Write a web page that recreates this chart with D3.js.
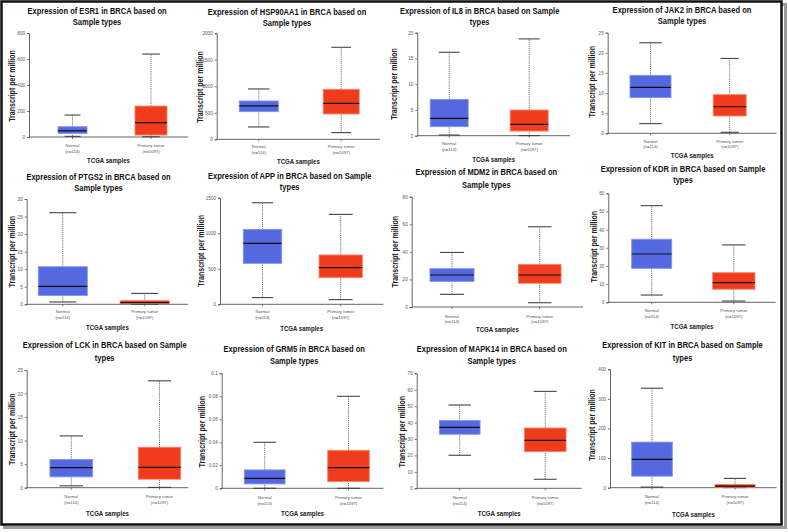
<!DOCTYPE html>
<html><head><meta charset="utf-8">
<script src="https://cdn.jsdelivr.net/npm/d3@7/dist/d3.min.js"></script>
<style>body{margin:0;background:#fff}svg{display:block}</style>
</head><body>
<svg id="chart" width="788" height="532"></svg>
<script>
// ---------- data ----------
const genes = ["ESR1","HSP90AA1","IL8","JAK2","PTGS2","APP","MDM2","KDR","LCK","GRM5","MAPK14","KIT"];
const titleLine1 = [
  "Expression of ESR1 in BRCA based on",
  "Expression of HSP90AA1 in BRCA based on",
  "Expression of IL8 in BRCA based on Sample",
  "Expression of JAK2 in BRCA based on",
  "Expression of PTGS2 in BRCA based on",
  "Expression of APP in BRCA based on Sample",
  "Expression of MDM2 in BRCA based on",
  "Expression of KDR in BRCA based on Sample",
  "Expression of LCK in BRCA based on Sample",
  "Expression of GRM5 in BRCA based on",
  "Expression of MAPK14 in BRCA based on",
  "Expression of KIT in BRCA based on Sample"];
const titleLine2 = ["Sample types","Sample types","types","Sample types","Sample types","types",
  "Sample types","types","types","Sample types","Sample types","types"];
const groups = ["Normal","Primary tumor"];
const groupN = ["(n=114)","(n=1097)"];
const xTitle = "TCGA samples";
const yTitle = "Transcript per million";
const yMax = [800,2000,20,25,30,1500,80,60,25,0.1,70,400];
const yStep = [200,500,5,5,5,500,20,10,5,0.02,10,100];
// [whisker low, Q1, median, Q3, whisker high]
const normalStats = [
  [5,28,48,79,169],
  [233,522,629,723,950],
  [0.13,1.75,3.37,7.05,16.2],
  [2.4,8.86,11.4,14.4,22.5],
  [0.66,2.5,5.1,10.7,26.1],
  [94,576,858,1054,1429],
  [9.2,18.6,23.2,27.8,39.6],
  [4.0,18.7,26.6,34.7,53.2],
  [0.4,2.3,4.25,6.0,11.0],
  [0,0.0038,0.0087,0.016,0.04],
  [20.1,32.9,37.1,41.2,50.7],
  [2,39,96,154,336]];
const tumorStats = [
  [2,15,110,238,638],
  [126,478,679,943,1736],
  [0.02,0.9,2.2,4.98,18.8],
  [0.25,4.3,6.6,9.6,18.6],
  [0,0.19,0.47,1.04,3.1],
  [66,375,515,694,1265],
  [3.1,17.2,23.2,30.9,58.2],
  [0.7,7.2,10.8,16.3,31.6],
  [0.07,1.8,4.3,8.6,22.7],
  [0,0.0058,0.018,0.033,0.08],
  [5.5,22.3,29.2,36.7,59],
  [0.5,2,5.6,11,31.5]];

// ---------- layout (positions only) ----------
const layout = [
 {ax:29,yt:33,y0:137,xr:188,c:[72.5,151],bw:[29,32],tcx:97,t1:14,t2:25,k1:147,k2:152.5,kt:162.5,lx:12,ly:86},
 {ax:216.7,yt:33.3,y0:139.3,xr:380,c:[258.8,341.2],bw:[39,36],tcx:287,t1:14.7,t2:25.7,k1:148,k2:154,kt:164,lx:200,ly:87},
 {ax:417.3,yt:32.7,y0:135.7,xr:570,c:[449.2,529.2],bw:[38,38],tcx:479.7,t1:14,t2:25,k1:145,k2:151,kt:161.7,lx:394,ly:84},
 {ax:607.7,yt:32.7,y0:133.3,xr:776.7,c:[650.5,729.7],bw:[41,33],tcx:682,t1:13.3,t2:24.3,k1:143,k2:148,kt:157.5,lx:592,ly:81.7},
 {ax:26.7,yt:199,y0:304.3,xr:188,c:[62.8,144.7],bw:[49,49],tcx:98.5,t1:179.7,t2:190.7,k1:313.3,k2:319,kt:330,lx:11.7,ly:251.7},
 {ax:220,yt:197.7,y0:304.3,xr:383.3,c:[262.5,340.7],bw:[38.4,43.3],tcx:289.7,t1:179,t2:190,k1:313.3,k2:319,kt:330.7,lx:201,ly:250.8},
 {ax:411.7,yt:196.7,y0:307,xr:583,c:[452,539.7],bw:[44,42.7],tcx:486.3,t1:175,t2:187.7,k1:317.7,k2:323.3,kt:331.7,lx:395,ly:251.7},
 {ax:608.3,yt:193.3,y0:302.3,xr:775.7,c:[651.7,733.8],bw:[40,42.3],tcx:683,t1:171.7,t2:182.7,k1:312.3,k2:317.7,kt:329,lx:594.3,ly:246.7},
 {ax:26.7,yt:370,y0:487.7,xr:188.3,c:[71.3,159.5],bw:[42.7,42.4],tcx:104.7,t1:348.3,t2:360.7,k1:498.3,k2:504,kt:515.7,lx:11.7,ly:429.2},
 {ax:221.7,yt:373.3,y0:488.3,xr:383.3,c:[264.7,348.5],bw:[40.7,41.6],tcx:294.2,t1:352.3,t2:364,k1:499,k2:504.7,kt:515.7,lx:202.3,ly:431.7},
 {ax:416.7,yt:373.3,y0:488.3,xr:581.7,c:[459.7,545.2],bw:[40.7,41.7],tcx:491.7,t1:352.3,t2:364,k1:499,k2:504.7,kt:516,lx:401.7,ly:431.7},
 {ax:610,yt:369.3,y0:487.7,xr:776.7,c:[652,735],bw:[40.6,40],tcx:682.5,t1:348.3,t2:361,k1:498.3,k2:504,kt:516.7,lx:592.3,ly:425}
];
const fills = ["#5468df","#f03c1c"];
const strokes = ["#8494ec","#f7866a"];
const FONT = "'Liberation Sans', Arial, Helvetica, sans-serif";

const svg = d3.select("#chart");
svg.append("rect").attr("width",788).attr("height",532).attr("fill","#fff");
// frame shadow + frame
svg.append("rect").attr("x",4.5).attr("y",4.5).attr("width",781).attr("height",523)
  .attr("fill","none").attr("stroke","#9a9a9a").attr("stroke-width",3);
svg.append("rect").attr("x",1.5).attr("y",1.5).attr("width",780).attr("height",523)
  .attr("fill","#fff").attr("stroke","#111").attr("stroke-width",2.5);

genes.forEach((g,i)=>{
  const L = layout[i];
  const gp = svg.append("g").attr("class","panel-"+g);
  const y = d3.scaleLinear().domain([0,yMax[i]]).range([L.y0,L.yt]);
  const x = d3.scaleOrdinal().domain(groups).range(L.c);
  const bwOf = d3.scaleOrdinal().domain(groups).range(L.bw);

  // title
  [[titleLine1[i],L.t1],[titleLine2[i],L.t2]].forEach(([t,ty])=>{
    gp.append("text").attr("transform",`translate(${L.tcx},${ty}) scale(0.82,1)`)
      .attr("text-anchor","middle").attr("font-family",FONT).attr("font-weight","bold")
      .attr("font-size",9.2).attr("fill","#111").text(t);
  });
  // y label
  gp.append("text").attr("transform",`translate(${L.lx},${L.ly}) rotate(-90) scale(0.82,1)`)
    .attr("text-anchor","middle").attr("dy","0.35em").attr("font-family",FONT).attr("font-weight","bold")
    .attr("font-size",8.6).attr("fill","#222").text(yTitle);

  // y axis
  const ticks = d3.range(0, yMax[i]+yStep[i]/2, yStep[i]).map(v=>+v.toFixed(6));
  const ya = gp.append("g").attr("transform",`translate(${L.ax},0)`)
    .call(d3.axisLeft(y).tickValues(ticks).tickSize(2).tickPadding(2).tickFormat(d=>String(+d.toFixed(6))));
  ya.select(".domain").attr("stroke","#555").attr("stroke-width",0.9);
  ya.selectAll(".tick line").attr("stroke","#555").attr("stroke-width",0.8);
  ya.selectAll(".tick text").attr("font-family",FONT).attr("font-size",4.6).attr("fill","#555");
  // x axis line
  gp.append("line").attr("x1",L.ax).attr("x2",L.xr).attr("y1",L.y0).attr("y2",L.y0)
    .attr("stroke","#555").attr("stroke-width",0.9);
  groups.forEach(gr=>{
    gp.append("line").attr("x1",x(gr)).attr("x2",x(gr)).attr("y1",L.y0).attr("y2",L.y0+2)
      .attr("stroke","#555").attr("stroke-width",0.8);
  });
  // category labels
  groups.forEach((gr,j)=>{
    gp.append("text").attr("x",x(gr)).attr("y",L.k1).attr("text-anchor","middle")
      .attr("font-family",FONT).attr("font-size",4.3).attr("fill","#555").text(gr);
    gp.append("text").attr("x",x(gr)).attr("y",L.k2).attr("text-anchor","middle")
      .attr("font-family",FONT).attr("font-size",4.3).attr("fill","#555").text(groupN[j]);
  });
  // x title
  gp.append("text").attr("transform",`translate(${(L.ax+L.xr)/2},${L.kt}) scale(0.82,1)`)
    .attr("text-anchor","middle").attr("font-family",FONT).attr("font-weight","bold")
    .attr("font-size",7.4).attr("fill","#222").text(xTitle);

  // boxes
  const stats = [normalStats[i], tumorStats[i]];
  groups.forEach((gr,j)=>{
    const s = stats[j], cx = x(gr), bw = bwOf(gr), cap = bw*0.55;
    // whiskers (dotted)
    gp.append("line").attr("x1",cx).attr("x2",cx).attr("y1",y(s[0])).attr("y2",y(s[1]))
      .attr("stroke","#666").attr("stroke-width",0.9).attr("stroke-dasharray","1.2,0.9");
    gp.append("line").attr("x1",cx).attr("x2",cx).attr("y1",y(s[3])).attr("y2",y(s[4]))
      .attr("stroke","#666").attr("stroke-width",0.9).attr("stroke-dasharray","1.2,0.9");
    // caps
    [s[0],s[4]].forEach(v=>{
      gp.append("line").attr("x1",cx-cap/2).attr("x2",cx+cap/2).attr("y1",y(v)).attr("y2",y(v))
        .attr("stroke","#444").attr("stroke-width",1.1);
    });
    // box
    gp.append("rect").attr("x",cx-bw/2).attr("width",bw)
      .attr("y",y(s[3])).attr("height",Math.max(0.8,y(s[1])-y(s[3])))
      .attr("fill",fills[j]).attr("stroke",strokes[j]).attr("stroke-width",0.9);
    // median
    gp.append("line").attr("x1",cx-bw/2).attr("x2",cx+bw/2).attr("y1",y(s[2])).attr("y2",y(s[2]))
      .attr("stroke","#111").attr("stroke-width",1.2);
  });
});
</script>
</body></html>
